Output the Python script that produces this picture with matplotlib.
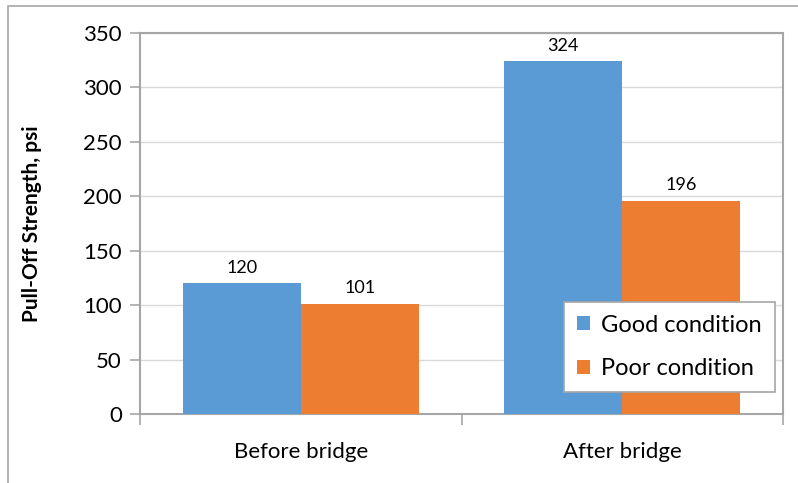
import matplotlib
matplotlib.use("Agg")
import matplotlib.pyplot as plt
import numpy as np
from matplotlib.patches import Rectangle

categories = ["Before bridge", "After bridge"]
series_names = ["Good condition", "Poor condition"]
good = [120, 324]
poor = [101, 196]
yticks = [0, 50, 100, 150, 200, 250, 300, 350]

plt.rcParams['font.family'] = ['Lato', 'DejaVu Sans']

W, H = 798, 483
fig = plt.figure(figsize=(W/100, H/100), dpi=100)
ax = fig.add_axes([140/W, 1-414/H, (783-140)/W, (414-33)/H])

# figure frame
fig.patches.append(Rectangle((8/W, -0.1), 1.1, 1-6/H+0.1, transform=fig.transFigure,
                             fill=False, edgecolor='#a6a6a6', linewidth=1.2, zorder=0))

x = np.arange(len(categories))
bw = 118/321.5
c_good = '#5B9BD5'
c_poor = '#ED7D31'
b1 = ax.bar(x - bw/2, good, bw, color=c_good, label=series_names[0], zorder=3)
b2 = ax.bar(x + bw/2, poor, bw, color=c_poor, label=series_names[1], zorder=3)

for bars, vals in ((b1, good), (b2, poor)):
    for r, v in zip(bars, vals):
        ax.text(r.get_x() + r.get_width()/2, v + 7, str(v), ha='center', va='bottom',
                fontsize=13, color='#000000')

ax.set_xlim(-0.5, 1.5)
ax.set_ylim(0, 350)
ax.set_yticks(yticks)
ax.set_yticklabels([str(t) for t in yticks], fontsize=16)
ax.yaxis.grid(True, color='#d9d9d9', linewidth=1, zorder=0)
ax.set_axisbelow(True)

ax.set_xticks([-0.5, 0.5, 1.5], minor=False)
ax.set_xticklabels(['', '', ''])
ax.set_xticks(x, minor=True)
ax.set_xticklabels(categories, minor=True, fontsize=16)
ax.tick_params(axis='x', which='minor', length=0, pad=20)
ax.tick_params(axis='x', which='major', length=8, color='#a6a6a6', width=1.2)
ax.tick_params(axis='y', length=7, color='#a6a6a6', width=1.2, pad=6)

for s in ['left', 'bottom', 'top', 'right']:
    ax.spines[s].set_color('#a6a6a6')
    ax.spines[s].set_linewidth(1.5)

ax.set_ylabel('Pull-Off Strength, psi', fontsize=15, fontweight='bold', labelpad=10)
ax.yaxis.set_label_coords(-(140-42)/(783-140), 0.5)

leg = ax.legend(loc='lower right', bbox_to_anchor=((775-140)/(783-140), (414-392)/(414-33)),
                borderaxespad=0, fontsize=17, frameon=True, fancybox=False, edgecolor='#a6a6a6',
                handlelength=0.55, handleheight=0.55, handletextpad=0.5,
                labelspacing=0.95, borderpad=0.55, framealpha=1)
leg.get_frame().set_linewidth(1.2)
leg.set_zorder(5)

fig.savefig('out.png', dpi=100)
